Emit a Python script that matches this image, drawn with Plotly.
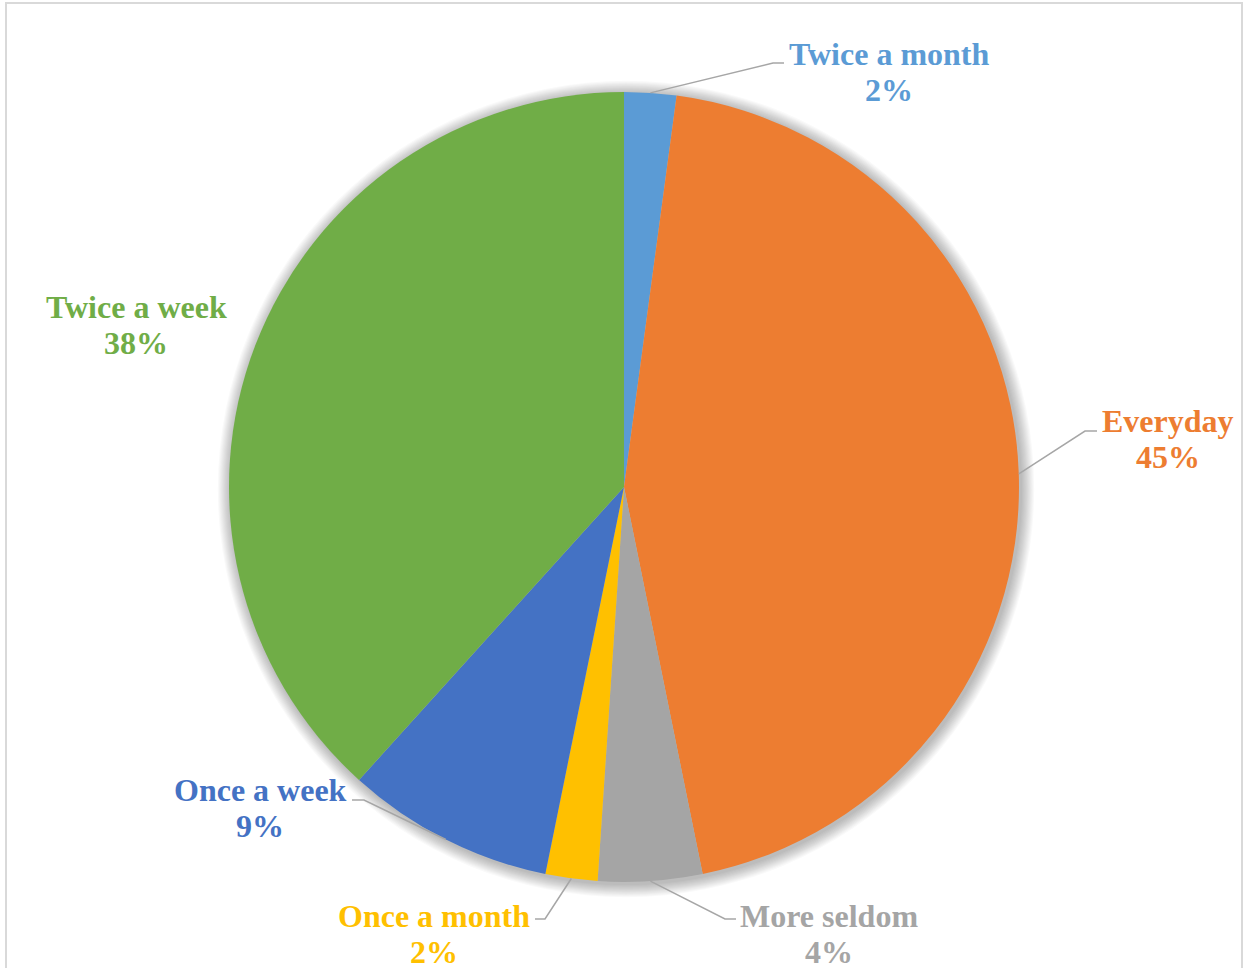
import math
import plotly.graph_objects as go

# Survey responses: how often people do it (respondent counts)
categories = ["Twice a month", "Everyday", "More seldom", "Once a month", "Once a week", "Twice a week"]
counts = [1, 21, 2, 1, 4, 18]
colors = ["#5B9BD5", "#ED7D31", "#A5A5A5", "#FFC000", "#4472C4", "#70AD47"]

W, H = 1246, 968
CX, CY, R = 624, 487, 395  # pie centre and radius in pixels

# Label layout: (label centre x, first-line y, leader elbow, leader end) in pixels
label_layout = {
    "Twice a month": dict(x=889, y=54, elbow=(773, 63), end=(784, 63)),
    "Everyday": dict(x=1168, y=421, elbow=(1085, 431), end=(1097, 431)),
    "More seldom": dict(x=829, y=916, elbow=(725, 919), end=(736, 919)),
    "Once a month": dict(x=434, y=916, elbow=(545, 919), end=(535, 919)),
    "Once a week": dict(x=260, y=790, elbow=(364, 800), end=(352, 800)),
    "Twice a week": dict(x=136, y=307, elbow=None, end=None),
}


def px(x):
    return x / W


def py(y):
    return 1 - y / H


fig = go.Figure()
fig.add_trace(go.Pie(
    labels=categories,
    values=counts,
    sort=False,
    direction="clockwise",
    rotation=0,
    marker=dict(colors=colors, line=dict(width=0)),
    textinfo="none",
    hoverinfo="label+percent",
    showlegend=False,
    domain=dict(x=[px(CX - R), px(CX + R)], y=[py(CY + R), py(CY - R)]),
))

shapes = []
# soft drop shadow behind the pie
for k in range(1, 13):
    rr = R + k * 1.1
    ox, oy = 2, 2
    shapes.append(dict(
        type="circle", xref="paper", yref="paper", layer="below",
        x0=px(CX + ox - rr), x1=px(CX + ox + rr),
        y0=py(CY + oy + rr), y1=py(CY + oy - rr),
        fillcolor="rgba(0,0,0,0.022)", line=dict(width=0),
    ))

# chart area border
shapes.append(dict(
    type="rect", xref="paper", yref="paper", layer="below",
    x0=px(6), x1=px(1242), y0=py(990), y1=py(3),
    line=dict(color="#D9D9D9", width=2), fillcolor="rgba(0,0,0,0)",
))

total = sum(counts)
annotations = []
cum = 0.0
font_family = "Liberation Serif"
for cat, val, col in zip(categories, counts, colors):
    mid = (cum + val / 2) / total * 2 * math.pi
    cum += val
    lay = label_layout[cat]
    pct = f"{val / total * 100:.0f}%"
    for i, line in enumerate([cat, pct]):
        annotations.append(dict(
            x=px(lay["x"]), y=py(lay["y"] + i * 36), xref="paper", yref="paper",
            text=f"<b>{line}</b>", showarrow=False, xanchor="center", yanchor="middle",
            font=dict(family=font_family, size=32, color=col),
        ))
    if lay["elbow"] is not None:
        sx = CX + R * math.sin(mid)
        sy = CY - R * math.cos(mid)
        ex, ey = lay["elbow"]
        tx, ty = lay["end"]
        shapes.append(dict(
            type="path", xref="paper", yref="paper",
            path=f"M {px(sx)} {py(sy)} L {px(ex)} {py(ey)} L {px(tx)} {py(ty)}",
            line=dict(color="#A6A6A6", width=1.5),
        ))

fig.update_layout(
    width=W, height=H,
    margin=dict(l=0, r=0, t=0, b=0),
    paper_bgcolor="white",
    plot_bgcolor="white",
    shapes=shapes,
    annotations=annotations,
)

fig.write_html("out.html")
